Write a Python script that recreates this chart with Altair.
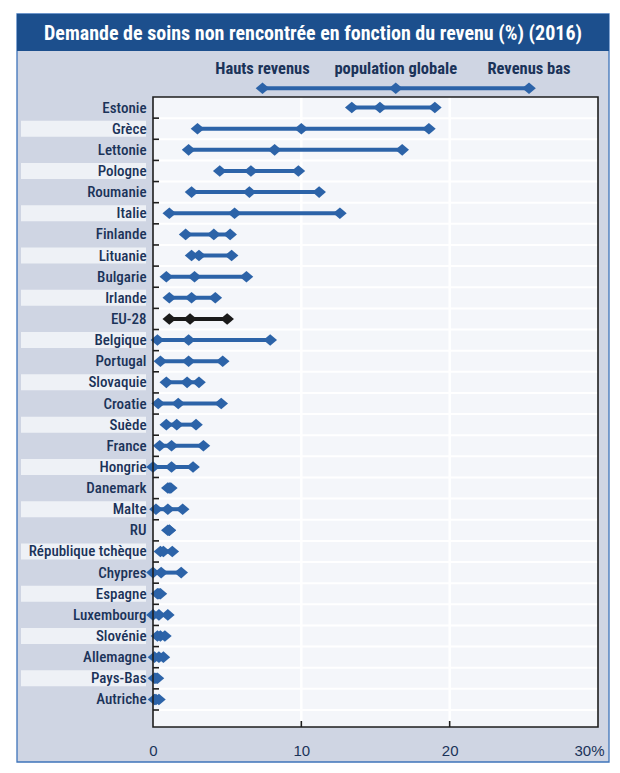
import altair as alt
import pandas as pd

TITLE = "Demande de soins non rencontrée en fonction du revenu (%) (2016)"
countries = ["Estonie", "Grèce", "Lettonie", "Pologne", "Roumanie", "Italie", "Finlande",
             "Lituanie", "Bulgarie", "Irlande", "EU-28", "Belgique", "Portugal", "Slovaquie",
             "Croatie", "Suède", "France", "Hongrie", "Danemark", "Malte", "RU",
             "République tchèque", "Chypres", "Espagne", "Luxembourg", "Slovénie",
             "Allemagne", "Pays-Bas", "Autriche"]
high = [13.4, 3.0, 2.4, 4.5, 2.6, 1.1, 2.2, 2.6, 0.9, 1.1, 1.1, 0.3, 0.5, 0.9, 0.35, 0.9,
        0.45, 0.0, 1.0, 0.2, 1.0, 0.5, 0.0, 0.3, 0.0, 0.3, 0.1, 0.1, 0.1]
total = [15.3, 10.0, 8.2, 6.6, 6.5, 5.5, 4.1, 3.1, 2.8, 2.6, 2.5, 2.4, 2.4, 2.3, 1.7, 1.6,
         1.25, 1.25, 1.1, 1.0, 1.1, 0.7, 0.55, 0.4, 0.4, 0.5, 0.4, 0.2, 0.2]
low = [19.0, 18.6, 16.8, 9.8, 11.2, 12.6, 5.2, 5.3, 6.3, 4.2, 5.0, 7.9, 4.7, 3.1, 4.6, 2.9,
       3.4, 2.7, 1.2, 2.0, 1.1, 1.3, 1.9, 0.5, 1.0, 0.8, 0.7, 0.3, 0.4]
series = ["Hauts revenus", "population globale", "Revenus bas"]
x_ticks = [0, 10, 20, 30]
grid_vals = [10, 20]

BLUE = "#2c63a8"
BLACK = "#1a1a1a"
NAVY = "#1b3359"
FRAME = "#cfd5e3"
BAR = "#1c4f8d"
PLOTBG = "#f4f6fa"
STRIP = "#eef1f6"
NARROW = "'Roboto Condensed', 'Liberation Sans Narrow', Roboto, sans-serif"

W, H = 445, 630
BANDS_H = 613

wide = pd.DataFrame({"country": countries, "high": high, "total": total, "low": low})
wide["grp"] = ["eu" if c == "EU-28" else "pays" for c in countries]
wide["odd"] = [i % 2 for i in range(len(countries))]
long = wide.melt(id_vars=["country", "grp"], value_vars=["high", "total", "low"],
                 var_name="serie", value_name="value")

xscale = alt.Scale(domain=[0, 30], nice=False, zero=False)
yscale = alt.Scale(domain=countries, range=[0, BANDS_H], paddingInner=0, paddingOuter=0)
cscale = alt.Scale(domain=["pays", "eu"], range=[BLUE, BLACK])
diamond = "M-1,0L0,-0.85L1,0L0,0.85Z"

frame = alt.Chart(pd.DataFrame({"k": [0]})).mark_rect(
    fill=FRAME, stroke="#3f74ba", strokeWidth=1.3
).encode(x=alt.value(-136), x2=alt.value(456), y=alt.value(-83), y2=alt.value(665))

bar = alt.Chart(pd.DataFrame({"k": [0]})).mark_rect(fill=BAR).encode(
    x=alt.value(-136), x2=alt.value(456), y=alt.value(-83), y2=alt.value(-46))

title = alt.Chart(pd.DataFrame({"t": [TITLE]})).mark_text(
    color="white", font=NARROW, fontSize=20, fontWeight="bold", baseline="alphabetic",
    align="center"
).encode(x=alt.value(160), y=alt.value(-57), text="t:N")

strips = alt.Chart(wide).transform_filter("datum.odd == 1").mark_bar(
    color=STRIP, size=16, orient="horizontal"
).encode(y=alt.Y("country:N", sort=countries, scale=yscale), x=alt.value(-132), x2=alt.value(-7))

plotbg = alt.Chart(pd.DataFrame({"k": [0]})).mark_rect(fill=PLOTBG).encode(
    x=alt.value(0), x2=alt.value(W), y=alt.value(0), y2=alt.value(H))

hgrid = alt.Chart(wide).mark_rule(color="white", strokeWidth=2).encode(
    y=alt.Y("country:N", sort=countries, scale=yscale, bandPosition=1),
    x=alt.value(0), x2=alt.value(W))

vgrid = alt.Chart(pd.DataFrame({"value": grid_vals})).mark_rule(color="white", strokeWidth=2.5).encode(
    x=alt.X("value:Q", scale=xscale), y=alt.value(0), y2=alt.value(H))

ranges = alt.Chart(wide).mark_rule(strokeWidth=4).encode(
    y=alt.Y("country:N", sort=countries, scale=yscale),
    x=alt.X("high:Q", scale=xscale), x2="low:Q",
    color=alt.Color("grp:N", scale=cscale, legend=None))

points = alt.Chart(long).mark_point(shape=diamond, filled=True, size=185, opacity=1).encode(
    y=alt.Y("country:N", sort=countries, scale=yscale,
            axis=alt.Axis(title=None, ticks=False, domain=False, grid=False, zindex=1,
                          labelFont=NARROW, labelFontSize=15, labelFontWeight=500,
                          labelColor=NAVY, labelPadding=7, labelLimit=300)),
    x=alt.X("value:Q", scale=xscale,
            axis=alt.Axis(title=None, ticks=False, domain=False, grid=False, zindex=1,
                          values=x_ticks, labelExpr="datum.value == 30 ? '30%' : datum.label",
                          labelFont="Liberation Sans", labelFontSize=15, labelColor=NAVY,
                          labelPadding=16,
                          labelAlign=alt.condition("datum.value == 30", alt.value("right"), alt.value("center")),
                          labelOffset=alt.condition("datum.value == 30", alt.value(6), alt.value(0)))),
    color=alt.Color("grp:N", scale=cscale, legend=None))

border = alt.Chart(pd.DataFrame({"k": [0]})).mark_rect(
    fill=None, stroke="#1e1e1e", strokeWidth=1.6
).encode(x=alt.value(0), x2=alt.value(W), y=alt.value(0), y2=alt.value(H))

yticks = alt.Chart(wide).mark_rule(color="#1e1e1e", strokeWidth=1.6).encode(
    y=alt.Y("country:N", sort=countries, scale=yscale, bandPosition=1),
    x=alt.value(0), x2=alt.value(6))

xtick = alt.Chart(pd.DataFrame({"value": grid_vals})).mark_rule(color="#1e1e1e", strokeWidth=1.6).encode(
    x=alt.X("value:Q", scale=xscale), y=alt.value(H - 6), y2=alt.value(H))

main = alt.layer(frame, bar, title, strips, plotbg, hgrid, vgrid, ranges, points,
                 border, yticks, xtick)

leg_df = pd.DataFrame({"label": series})
lscale = alt.Scale(type="point", domain=series, range=[109.5, 376], padding=0)
lx = alt.X("label:N", scale=lscale, sort=series, axis=None)
leg_line = alt.Chart(leg_df).mark_line(color=BLUE, strokeWidth=4).encode(x=lx, y=alt.value(-8.7))
leg_pts = alt.Chart(leg_df).mark_point(shape=diamond, filled=True, size=185, opacity=1, color=BLUE).encode(
    x=lx, y=alt.value(-8.7))
leg_txt = alt.Chart(leg_df).mark_text(font=NARROW, fontSize=16.5, fontWeight="bold", color=NAVY,
                                      baseline="alphabetic").encode(
    x=lx, y=alt.value(-23.5), text="label:N")

chart = alt.layer(main, leg_line, leg_pts, leg_txt).resolve_scale(x="independent").properties(
    width=W, height=H,
    autosize=alt.AutoSizeParams(type="none"),
    padding={"left": 153, "top": 97, "right": 22, "bottom": 46},
    background="white",
).configure_view(stroke=None)

chart.save("out.html", embed_options={"renderer": "svg", "actions": False})
